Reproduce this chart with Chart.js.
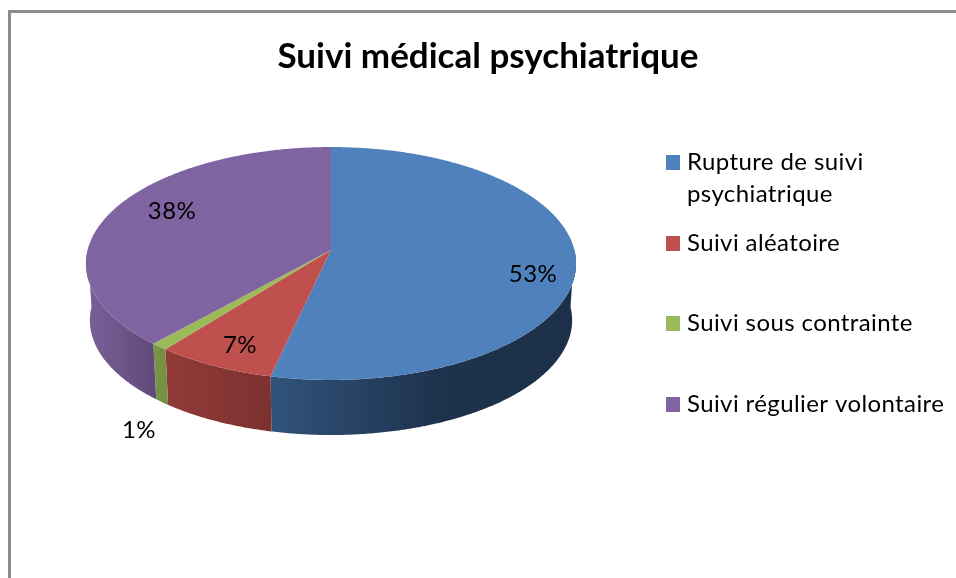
<!DOCTYPE html>
<html lang="fr">
<head>
<meta charset="utf-8">
<title>Suivi médical psychiatrique</title>
<script src="https://cdn.jsdelivr.net/npm/chart.js@4"></script>
<style>
html,body{margin:0;padding:0;background:#fff;overflow:hidden}
canvas{display:block}
</style>
</head>
<body>
<canvas id="c" width="956" height="578"></canvas>
<script>
const chartTitle = "Suivi médical psychiatrique";
const categories = ["Rupture de suivi psychiatrique", "Suivi aléatoire", "Suivi sous contrainte", "Suivi régulier volontaire"];
const values = [53, 7, 1, 38];
const topColors = ["#4F81BD", "#C0504D", "#9BBB59", "#8064A2"];
const wallColors = [
  [[0, "#31537b"], [0.55, "#1e324d"], [1, "#1d3049"]],
  [[0, "#923a38"], [1, "#7c312f"]],
  [[0, "#7b9646"], [1, "#748d43"]],
  [[0, "#7a6199"], [1, "#5e4a78"]]
];
const legendLines = [["Rupture de suivi", "psychiatrique"], ["Suivi aléatoire"], ["Suivi sous contrainte"], ["Suivi régulier volontaire"]];
const legendY = [162, 243, 323, 404];
const labelPos = [[533, 274], [240, 345], [139, 430], [172, 211]];

// Perspective view of the flat disc
const CX = 331, CY = 250, A = 243.4, B = 114.9, K = 0.1159;
const project = (a, r = 1) => {
  const u = r * Math.cos(a), v = r * Math.sin(a), w = 1 - K * v;
  return [CX + A * u / w, CY + B * v / w];
};
const lower = ([x, y]) => [CX + 0.984 * (x - CX), CY + 57 + 0.985 * (y - CY)];

const pie3d = {
  id: "pie3d",
  beforeDatasetsDraw(chart) {
    const ctx = chart.ctx;
    const arcs = chart.getDatasetMeta(0).data;
    const step = Math.PI / 360;
    const samples = (s, e) => {
      const out = [];
      for (let a = s; a < e; a += step) out.push(a);
      out.push(e);
      return out;
    };
    // side walls (front half only)
    arcs.forEach((arc, i) => {
      const s = Math.max(arc.startAngle, 0), e = Math.min(arc.endAngle, Math.PI);
      if (e <= s) return;
      const upper = samples(s, e).map(a => project(a));
      const low = upper.map(lower).reverse();
      const xs = upper.concat(low).map(p => p[0]);
      const g = ctx.createLinearGradient(Math.min(...xs), 0, Math.max(...xs), 0);
      wallColors[i].forEach(([o, c]) => g.addColorStop(o, c));
      ctx.beginPath();
      upper.concat(low).forEach(([x, y], k) => k ? ctx.lineTo(x, y) : ctx.moveTo(x, y));
      ctx.closePath();
      ctx.fillStyle = g;
      ctx.fill();
    });
    // top faces
    arcs.forEach((arc, i) => {
      ctx.beginPath();
      ctx.moveTo(CX, CY);
      samples(arc.startAngle, arc.endAngle).forEach(a => {
        const [x, y] = project(a);
        ctx.lineTo(x, y);
      });
      ctx.closePath();
      ctx.fillStyle = chart.data.datasets[0].backgroundColor[i];
      ctx.fill();
    });
    return false;
  },
  afterDraw(chart) {
    const ctx = chart.ctx;
    // frame (top and left only)
    ctx.fillStyle = "#8c8c8c";
    ctx.fillRect(8, 10, 948, 3);
    ctx.fillRect(8, 10, 3, 568);
    // value labels
    ctx.textBaseline = "middle";
    ctx.textAlign = "center";
    ctx.font = "24px Lato, sans-serif";
    ctx.letterSpacing = "0.4px";
    ctx.fillStyle = "#000";
    values.forEach((v, i) => ctx.fillText(v + "%", labelPos[i][0], labelPos[i][1]));
    // legend
    ctx.textAlign = "left";
    legendLines.forEach((lines, i) => {
      ctx.fillStyle = topColors[i];
      ctx.fillRect(666, legendY[i] - 7, 14, 15);
      ctx.fillStyle = "#000";
      lines.forEach((t, k) => ctx.fillText(t, 687, legendY[i] + k * 32));
    });
    ctx.letterSpacing = "0px";
  }
};

new Chart(document.getElementById("c"), {
  type: "pie",
  data: {
    labels: categories,
    datasets: [{ data: values, backgroundColor: topColors, borderWidth: 0 }]
  },
  options: {
    responsive: false,
    animation: false,
    layout: { padding: { left: 20 } },
    plugins: {
      legend: { display: false },
      tooltip: { enabled: false },
      title: {
        display: true,
        text: chartTitle,
        color: "#000",
        font: { family: "Lato, sans-serif", size: 35, weight: "bold" },
        padding: { top: 36, bottom: 10 }
      }
    }
  },
  plugins: [pie3d]
});
</script>
</body>
</html>
